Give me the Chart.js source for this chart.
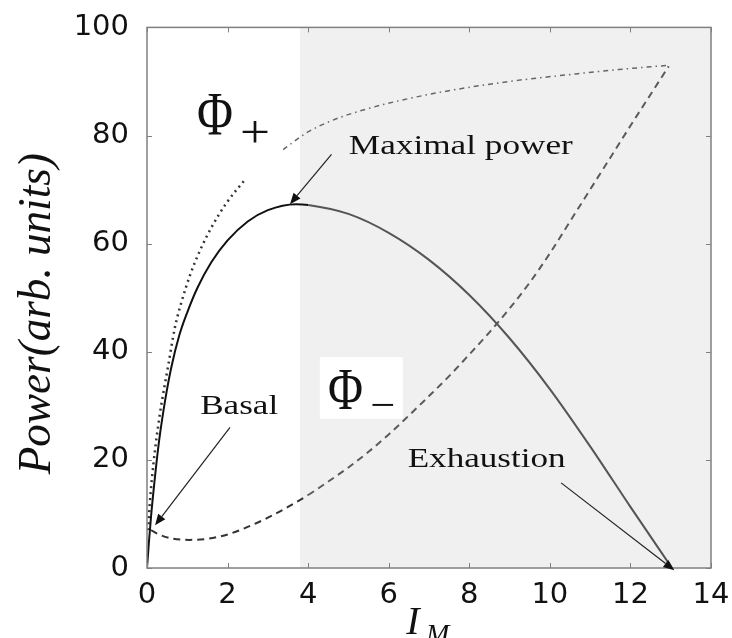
<!DOCTYPE html>
<html>
<head>
<meta charset="utf-8">
<script src="https://cdn.jsdelivr.net/npm/chart.js@4.4.1/dist/chart.umd.min.js"></script>
<style>
  html, body { margin: 0; padding: 0; background: #fff; }
</style>
</head>
<body>
<canvas id="chartPower" width="732" height="638"></canvas>
<script>
// tick labels
const xTicks = [0, 2, 4, 6, 8, 10, 12, 14];
const yTicks = [0, 20, 40, 60, 80, 100];
const shadeStart = 3.8;

// power curve (solid)
const powerX = [0, 0.05, 0.1, 0.2, 0.3, 0.45, 0.6, 0.8, 1.0, 1.25, 1.6, 2.0, 2.5, 3.0, 3.7, 4.0, 5.0, 6.0, 7.0, 8.0, 9.0, 10.0, 11.0, 12.0, 13.03];
const powerY = [0, 5, 9.5, 17, 23.5, 31, 37, 43, 47.3, 51.8, 56.6, 60.6, 64.1, 66.2, 67.3, 67.15, 65.5, 62.0, 57.0, 50.5, 42.5, 33.1, 22.5, 11.3, 0];

// Phi minus (dashed)
const phiMinusX = [0.1, 0.3, 0.6, 1.05, 1.5, 2.0, 2.5, 3.0, 3.5, 4.0, 4.5, 5.0, 5.5, 6.0, 6.5, 7.0, 7.5, 8.0, 8.5, 9.0, 9.5, 10.0, 10.5, 11.0, 11.5, 12.0, 12.5, 12.95];
const phiMinusY = [7.0, 6.2, 5.5, 5.2, 5.4, 6.2, 7.6, 9.3, 11.3, 13.5, 16.0, 18.6, 21.5, 24.7, 28.2, 31.8, 35.5, 39.5, 43.6, 48.0, 52.8, 58.2, 64.1, 70.0, 75.9, 81.8, 87.6, 92.8];

// Phi plus (dotted, two pieces)
const phiPlusLowX = [0.03, 0.07, 0.16, 0.32, 0.53, 0.69, 0.86, 1.07, 1.32, 1.6, 1.98, 2.45];
const phiPlusLowY = [7, 12, 19.3, 28.5, 37.6, 44.4, 49.3, 54.2, 58.8, 63, 67.6, 72];
const phiPlusHighX = [3.38, 3.96, 4.6, 5.45, 6.6, 7.9, 9.2, 10.4, 11.7, 12.95];
const phiPlusHighY = [77.4, 80.5, 82.8, 84.9, 87, 88.8, 90.2, 91.2, 92.2, 93];

function toPoints(xs, ys) {
  return xs.map((x, i) => ({ x: x, y: ys[i] }));
}

// colour changes once the line enters the shaded region
function shadeColor(light, dark) {
  return c => (c.p0.parsed.x >= shadeStart ? light : dark);
}

const serif = '"Liberation Serif", "Times New Roman", serif';

// annotations in data units; w = target text width in px
const notes = [
  { text: 'Maximal power', x: 5.01, y: 76.5, size: 28, w: 224, from: [4.58, 76.5], to: [3.55, 67.3] },
  { text: 'Basal', x: 1.32, y: 28.4, size: 28, w: 78, from: [2.06, 26.0], to: [0.2, 7.9] },
  { text: 'Exhaustion', x: 6.47, y: 18.6, size: 28, w: 158, from: [10.28, 15.75], to: [13.09, -0.4] }
];

function drawText(ctx, text, x, y, font, width, align, angle) {
  ctx.save();
  ctx.font = font;
  const w = ctx.measureText(text).width;
  ctx.translate(x, y);
  if (angle) ctx.rotate(angle);
  if (width) ctx.scale(width / w, 1);
  ctx.textAlign = align || 'left';
  ctx.textBaseline = 'alphabetic';
  ctx.fillStyle = '#111';
  ctx.fillText(text, 0, 0);
  ctx.restore();
}

function drawArrow(ctx, x1, y1, x2, y2) {
  const a = Math.atan2(y2 - y1, x2 - x1);
  const len = 11, half = 4.5;
  ctx.save();
  ctx.strokeStyle = '#222';
  ctx.fillStyle = '#111';
  ctx.lineWidth = 1.2;
  ctx.beginPath();
  ctx.moveTo(x1, y1);
  ctx.lineTo(x2 - len * Math.cos(a), y2 - len * Math.sin(a));
  ctx.stroke();
  ctx.beginPath();
  ctx.moveTo(x2, y2);
  ctx.lineTo(x2 - len * Math.cos(a) + half * Math.sin(a), y2 - len * Math.sin(a) - half * Math.cos(a));
  ctx.lineTo(x2 - len * Math.cos(a) - half * Math.sin(a), y2 - len * Math.sin(a) + half * Math.cos(a));
  ctx.closePath();
  ctx.fill();
  ctx.restore();
}

const decorPlugin = {
  id: 'decor',
  beforeDatasetsDraw(chart) {
    const { ctx, chartArea: a, scales: { x } } = chart;
    const sx = x.getPixelForValue(shadeStart);
    ctx.save();
    ctx.fillStyle = '#f0f0f0';
    ctx.fillRect(sx, a.top, a.right - sx, a.bottom - a.top);
    ctx.restore();
  },
  afterDatasetsDraw(chart) {
    const { ctx, chartArea: a, scales: { x, y } } = chart;

    // frame and inward ticks
    ctx.save();
    ctx.strokeStyle = '#808080';
    ctx.lineWidth = 1.5;
    ctx.strokeRect(a.left, a.top, a.right - a.left, a.bottom - a.top);
    ctx.lineWidth = 1;
    ctx.beginPath();
    xTicks.forEach(v => {
      const p = Math.round(x.getPixelForValue(v)) + 0.5;
      ctx.moveTo(p, a.bottom); ctx.lineTo(p, a.bottom - 5);
      ctx.moveTo(p, a.top); ctx.lineTo(p, a.top + 5);
    });
    yTicks.forEach(v => {
      const p = Math.round(y.getPixelForValue(v)) + 0.5;
      ctx.moveTo(a.left, p); ctx.lineTo(a.left + 5, p);
      ctx.moveTo(a.right, p); ctx.lineTo(a.right - 5, p);
    });
    ctx.stroke();
    ctx.restore();

    // white box behind Phi minus
    const bx0 = x.getPixelForValue(4.29), bx1 = x.getPixelForValue(6.35);
    const by0 = y.getPixelForValue(39.0), by1 = y.getPixelForValue(27.6);
    ctx.save();
    ctx.fillStyle = '#fff';
    ctx.fillRect(bx0, by0, bx1 - bx0, by1 - by0);
    ctx.restore();

    drawText(ctx, '\u03A6', x.getPixelForValue(4.93), y.getPixelForValue(29.4), '60px ' + serif, 35, 'center');
    drawText(ctx, '\u2212', x.getPixelForValue(5.85), y.getPixelForValue(27.8), '40px ' + serif, 25, 'center');

    drawText(ctx, '\u03A6', x.getPixelForValue(1.69), y.getPixelForValue(80.2), '62px ' + serif, 36, 'center');
    drawText(ctx, '+', x.getPixelForValue(2.68), y.getPixelForValue(77.9), '46px ' + serif, 30, 'center');

    notes.forEach(n => {
      drawText(ctx, n.text, x.getPixelForValue(n.x), y.getPixelForValue(n.y), n.size + 'px ' + serif, n.w, 'left');
      drawArrow(ctx, x.getPixelForValue(n.from[0]), y.getPixelForValue(n.from[1]),
                x.getPixelForValue(n.to[0]), y.getPixelForValue(n.to[1]));
    });

    // axis titles
    const midY = (a.top + a.bottom) / 2 + 16;
    drawText(ctx, 'Power(arb. units)', a.left - 97, midY, 'italic 46px ' + serif, 321, 'center', -Math.PI / 2);
    drawText(ctx, 'I', 413, 634, 'italic 40px ' + serif, 0, 'center');
    drawText(ctx, 'M', 426, 643, 'italic 28px ' + serif, 0, 'left');
  }
};

const tickFont = { family: '"DejaVu Sans", sans-serif', size: 29 };

const ctx = document.getElementById('chartPower').getContext('2d');
new Chart(ctx, {
  type: 'scatter',
  data: {
    datasets: [
      {
        label: 'Power',
        data: toPoints(powerX, powerY),
        showLine: true,
        borderWidth: 2,
        borderColor: '#111',
        segment: { borderColor: shadeColor('#555', '#111') },
        cubicInterpolationMode: 'monotone',
        pointRadius: 0
      },
      {
        label: 'Phi-',
        data: toPoints(phiMinusX, phiMinusY),
        showLine: true,
        borderWidth: 2,
        borderDash: [7, 5],
        borderColor: '#333',
        segment: { borderColor: shadeColor('#5a5a5a', '#333') },
        cubicInterpolationMode: 'monotone',
        pointRadius: 0
      },
      {
        label: 'Phi+ low',
        data: toPoints(phiPlusLowX, phiPlusLowY),
        showLine: true,
        borderWidth: 2.5,
        borderDash: [2, 4],
        borderColor: '#333',
        cubicInterpolationMode: 'monotone',
        pointRadius: 0
      },
      {
        label: 'Phi+ high',
        data: toPoints(phiPlusHighX, phiPlusHighY),
        showLine: true,
        borderWidth: 1.5,
        borderDash: [5, 4, 1.5, 4],
        borderColor: '#666',
        cubicInterpolationMode: 'monotone',
        pointRadius: 0
      }
    ]
  },
  options: {
    responsive: false,
    animation: false,
    devicePixelRatio: 1,
    layout: { padding: { left: 0, right: 21, top: 24, bottom: 0 } },
    plugins: { legend: { display: false }, tooltip: { enabled: false } },
    scales: {
      x: {
        type: 'linear',
        min: 0,
        max: 14,
        afterBuildTicks: s => { s.ticks = xTicks.map(v => ({ value: v })); },
        afterFit: s => { s.height = 70; },
        ticks: { font: tickFont, color: '#111', padding: 2, maxRotation: 0 },
        grid: { display: false },
        border: { display: false }
      },
      y: {
        type: 'linear',
        min: 0,
        max: 100,
        afterBuildTicks: s => { s.ticks = yTicks.map(v => ({ value: v })); },
        afterFit: s => { s.width = 147; },
        ticks: { font: tickFont, color: '#111', padding: 10 },
        grid: { display: false },
        border: { display: false }
      }
    }
  },
  plugins: [decorPlugin]
});
</script>
</body>
</html>
